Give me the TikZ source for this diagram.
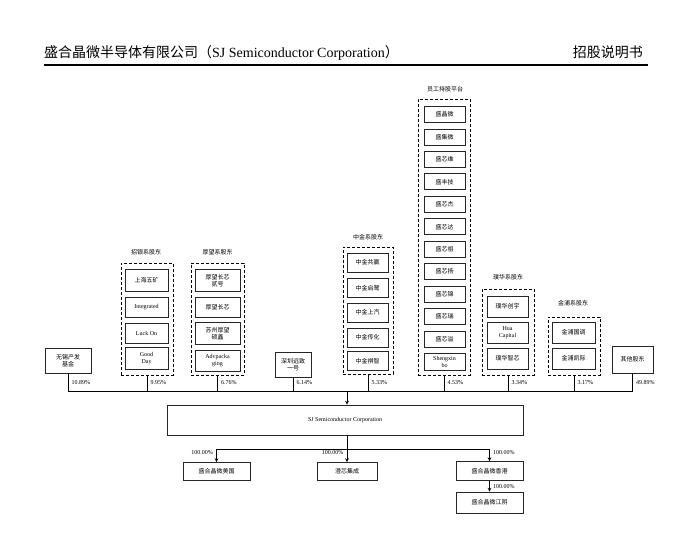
\documentclass[tikz,border=0pt]{standalone}
\usepackage{fontspec}
\setmainfont{Liberation Serif}
\newfontfamily\cjk{Noto Sans CJK SC}
\usetikzlibrary{positioning}
\tikzset{
  mem/.style={draw=black!85, line width=0.9pt, inner sep=1pt, align=center,
    minimum width=41pt, minimum height=16pt, font=\cjk\fontsize{6}{7}\selectfont},
  latin/.style={font=\fontsize{6}{7}\selectfont},
  grp/.style={draw, line width=0.9pt, dash pattern=on 3pt off 2pt},
  grplabel/.style={font=\cjk\fontsize{6}{7}\selectfont, inner sep=0pt},
  pct/.style={font=\fontsize{6}{7}\selectfont, anchor=west, inner sep=1pt, xshift=2.5pt},
  link/.style={line width=0.7pt},
}
\begin{document}
\begin{tikzpicture}[x=1pt, y=-1pt]
  \useasboundingbox (0,0) rectangle (695,554);
  % header
  \node[anchor=base west, inner sep=0pt, font=\fontsize{14}{15}\selectfont] (title) at (44,57)
    {{\cjk 盛合晶微半导体有限公司（}SJ Semiconductor Corporation{\cjk ）}};
  \node[anchor=base east, inner sep=0pt, font=\cjk\fontsize{14}{15}\selectfont] (doc) at (643,57) {招股说明书};
  \draw[line width=1.2pt] (44,65) -- (648,65);

  % single shareholders
  \node[mem, minimum width=46pt, minimum height=25pt] (wx) at (68,360.5) {无锡产发\\基金};
  \node[mem, minimum width=36pt, minimum height=25pt] (sz) at (293,364.5) {深圳远致\\一号};
  \node[mem, minimum width=41pt, minimum height=27pt] (qt) at (632.5,359.5) {其他股东};

  % zhaoyin
  \node[grp, minimum width=52pt, minimum height=112pt] (zy) at (147,319) {};
  \node[grplabel] at (146,252) {招银系股东};
  \node[mem, minimum width=43pt, minimum height=22pt] (zy1) at (146.5,280.5) {上海五矿};
  \node[mem, latin, minimum width=43pt, minimum height=20pt] (zy2) at (146.5,307) {Integrated};
  \node[mem, latin, minimum width=43pt, minimum height=20pt] (zy3) at (146.5,333) {Luck On};
  \node[mem, latin, minimum width=43pt, minimum height=22pt] (zy4) at (146.5,358.5) {Good\\Day};

  % houwang
  \node[grp, minimum width=53pt, minimum height=112pt] (hw) at (217.5,319) {};
  \node[grplabel] at (217.5,252) {厚望系股东};
  \node[mem, minimum width=45pt, minimum height=22pt] (hw1) at (217.5,280.5) {厚望长芯\\贰号};
  \node[mem, minimum width=45pt, minimum height=20pt] (hw2) at (217.5,307) {厚望长芯};
  \node[mem, minimum width=45pt, minimum height=22pt] (hw3) at (217.5,333.5) {苏州厚望\\硕鑫};
  \node[mem, latin, minimum width=45pt, minimum height=21pt] (hw4) at (217.5,360.5) {Advpacka\\ging};

  % zhongjin
  \node[grp, minimum width=50pt, minimum height=127pt] (zj) at (368,310.5) {};
  \node[grplabel] at (368,237) {中金系股东};
  \node[mem, minimum height=19pt] (zj1) at (367.5,262.5) {中金共赢};
  \node[mem, minimum height=19pt] (zj2) at (367.5,288) {中金启鹭};
  \node[mem, minimum height=19pt] (zj3) at (367.5,312.5) {中金上汽};
  \node[mem, minimum height=19pt] (zj4) at (367.5,337.5) {中金传化};
  \node[mem, minimum height=19pt] (zj5) at (367.5,361) {中金祺智};

  % employee platform
  \node[grp, minimum width=52pt, minimum height=276pt] (yg) at (444,237) {};
  \node[grplabel] at (445,89) {员工持股平台};
  \foreach \n [count=\i from 0] in {盛晶微,盛集微,盛芯维,盛丰技,盛芯杰,盛芯达,盛芯祖,盛芯扬,盛芯锦,盛芯瑞,盛芯溢}
    \node[mem] (yg\i) at (444.5,{114.5+\i*22.45}) {\n};
  \node[mem, latin, minimum height=17pt] (yg11) at (444.5,361.5) {Shengxin\\bo};

  % puhua
  \node[grp, minimum width=52pt, minimum height=86pt] (ph) at (508,332) {};
  \node[grplabel] at (508,277) {璞华系股东};
  \node[mem, minimum height=21pt] (ph1) at (507.5,306.5) {璞华创宇};
  \node[mem, latin, minimum height=21pt] (ph2) at (507.5,332.5) {Hua\\Capital};
  \node[mem, minimum height=21pt] (ph3) at (507.5,358.5) {璞华智芯};

  % jinpu
  \node[grp, minimum width=52pt, minimum height=58pt] (jp) at (574,346) {};
  \node[grplabel] at (573,303) {金浦系股东};
  \node[mem, minimum width=43pt, minimum height=21pt] (jp1) at (573.5,332.5) {金浦国调};
  \node[mem, minimum width=43pt, minimum height=21pt] (jp2) at (573.5,358.5) {金浦凯际};

  % bus
  \coordinate (bus) at (347,391);
  \draw[link] (wx.south |- bus) -- (qt.south |- bus);
  \foreach \s in {wx,zy,hw,sz,zj,yg,ph,jp,qt}
    \draw[link] (\s.south) -- (\s.south |- bus);
  \node[pct] at (wx.south |- 0,383) {10.89\%};
  \node[pct] at (zy.south |- 0,383) {9.95\%};
  \node[pct] at (hw.south |- 0,383) {6.76\%};
  \node[pct] at (sz.south |- 0,383) {6.14\%};
  \node[pct] at (zj.south |- 0,383) {5.33\%};
  \node[pct] at (yg.south |- 0,383) {4.53\%};
  \node[pct] at (ph.south |- 0,383) {3.34\%};
  \node[pct] at (jp.south |- 0,383) {3.17\%};
  \node[pct] at (qt.south |- 0,383) {49.89\%};

  % company
  \node[mem, latin, minimum width=356pt, minimum height=30pt] (sj) at (345,420) {SJ Semiconductor Corporation};
  \draw[link, ->, >=stealth] (bus) -- (bus |- sj.north);

  % subsidiaries
  \node[mem, minimum width=67pt, minimum height=18pt] (us) at (216.5,471.5) {盛合晶微美国};
  \node[mem, minimum width=60pt, minimum height=18pt] (cx) at (347,471.5) {澄芯集成};
  \node[mem, minimum width=67pt, minimum height=19pt] (hk) at (489.5,471) {盛合晶微香港};
  \node[mem, minimum width=67pt, minimum height=21pt] (jy) at (489.5,502.5) {盛合晶微江阴};
  \coordinate (hub) at (347,449);
  \draw[link] (sj.south -| hub) -- (hub);
  \draw[link] (us.north |- hub) -- (hk.north |- hub);
  \draw[link, ->, >=stealth] (us.north |- hub) -- (us.north);
  \draw[link, ->, >=stealth] (hub) -- (cx.north);
  \draw[link, ->, >=stealth] (hk.north |- hub) -- (hk.north);
  \draw[link, ->, >=stealth] (hk.south) -- (jy.north);
  \node[pct, anchor=east, xshift=-5pt] at (us.north |- 0,453) {100.00\%};
  \node[pct, anchor=east, xshift=-5pt] at (cx.north |- 0,453) {100.00\%};
  \node[pct] at (hk.north |- 0,453) {100.00\%};
  \node[pct] at (hk.south |- 0,487) {100.00\%};
\end{tikzpicture}
\end{document}
